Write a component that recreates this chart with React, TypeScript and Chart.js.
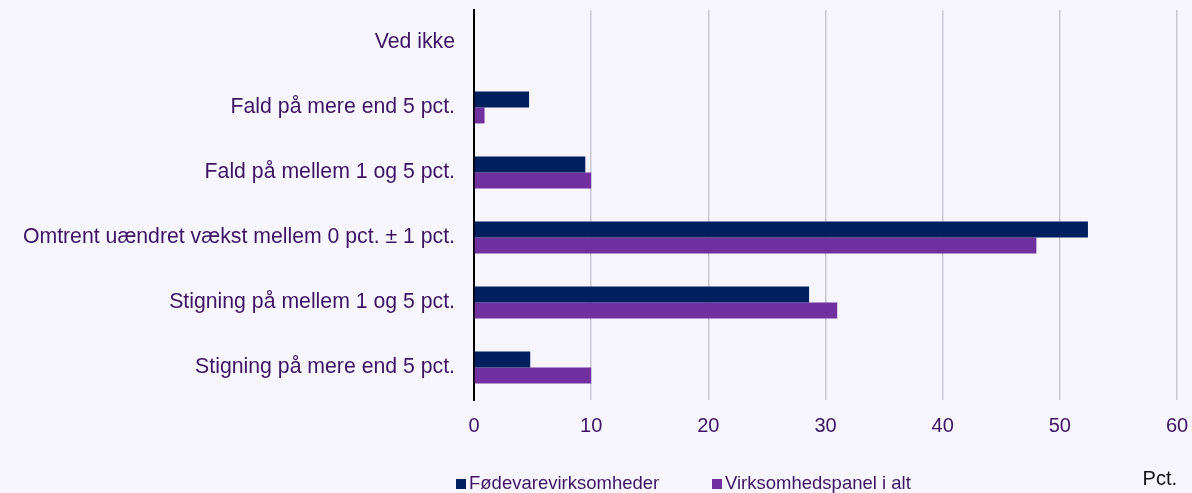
import React, { useEffect, useRef } from 'react';
import { Chart, registerables } from 'chart.js';

Chart.register(...registerables);

const categories = [
  'Ved ikke',
  'Fald på mere end 5 pct.',
  'Fald på mellem 1 og 5 pct.',
  'Omtrent uændret vækst mellem 0 pct. ± 1 pct.',
  'Stigning på mellem 1 og 5 pct.',
  'Stigning på mere end 5 pct.',
];
const foedevareValues = [0, 4.7, 9.5, 52.4, 28.6, 4.8];
const panelValues = [0, 0.9, 10.0, 48.0, 31.0, 10.0];
const seriesLabels = ['Fødevarevirksomheder', 'Virksomhedspanel i alt'];
const axisTitle = 'Pct.';

const BG = '#f7f5fe';
const TEXT = '#3c1464';
const NAVY = '#001f5f';
const PURPLE = '#7030a0';
const FONT = '"Liberation Sans", Arial, sans-serif';

const legendPlugin = {
  id: 'customLegend',
  afterDraw(chart: any) {
    const ctx = chart.ctx;
    const positions = [456, 712];
    ctx.save();
    ctx.font = `18.5px ${FONT}`;
    ctx.textBaseline = 'alphabetic';
    ctx.textAlign = 'left';
    chart.data.datasets.forEach((ds: any, i: number) => {
      const x = positions[i];
      ctx.fillStyle = ds.backgroundColor;
      ctx.fillRect(x, 479, 10, 10);
      ctx.fillStyle = TEXT;
      ctx.fillText(ds.label, x + 13, 489);
    });
    ctx.restore();
  },
};

const bgPlugin = {
  id: 'bg',
  beforeDraw(chart: any) {
    const ctx = chart.ctx;
    ctx.save();
    ctx.fillStyle = BG;
    ctx.fillRect(0, 0, chart.width, chart.height);
    ctx.restore();
  },
};

export default function App() {
  const ref = useRef<HTMLCanvasElement>(null);
  useEffect(() => {
    document.body.style.margin = '0';
    document.body.style.background = BG;
    const chart = new Chart(ref.current!, {
      type: 'bar',
      data: {
        labels: categories,
        datasets: [
          { label: seriesLabels[0], data: foedevareValues, backgroundColor: NAVY, borderWidth: 0 },
          { label: seriesLabels[1], data: panelValues, backgroundColor: PURPLE, borderWidth: 0 },
        ],
      },
      options: {
        indexAxis: 'y',
        animation: false,
        responsive: false,
        layout: { padding: { top: 10, right: 15, left: 0, bottom: 0 } },
        datasets: { bar: { barPercentage: 1, categoryPercentage: 0.49 } },
        plugins: { legend: { display: false }, tooltip: { enabled: false } },
        scales: {
          x: {
            min: 0,
            max: 60,
            ticks: { stepSize: 10, color: TEXT, font: { family: FONT, size: 20 }, padding: 14 },
            grid: { color: '#c9c7d2', lineWidth: 1.5, drawTicks: false },
            border: { display: false },
            title: {
              display: true,
              text: axisTitle,
              align: 'end',
              color: '#111111',
              font: { family: FONT, size: 20 },
              padding: { top: 0, bottom: 2 },
            },
            afterFit(scale: any) {
              scale.height = 93;
              scale.paddingLeft = 0;
              scale.paddingRight = 0;
            },
          },
          y: {
            ticks: { color: TEXT, font: { family: FONT, size: 21.25 }, padding: 19 },
            grid: { display: false, drawTicks: false },
            border: { display: true, color: '#000000', width: 2 },
            afterFit(scale: any) {
              scale.width = 474;
              scale.paddingTop = 0;
              scale.paddingBottom = 0;
            },
          },
        },
      },
      plugins: [bgPlugin, legendPlugin],
    });
    return () => chart.destroy();
  }, []);
  return (
    <div style={{ width: 1192, height: 493, background: BG }}>
      <canvas ref={ref} width={1192} height={493} style={{ display: 'block' }} />
    </div>
  );
}
